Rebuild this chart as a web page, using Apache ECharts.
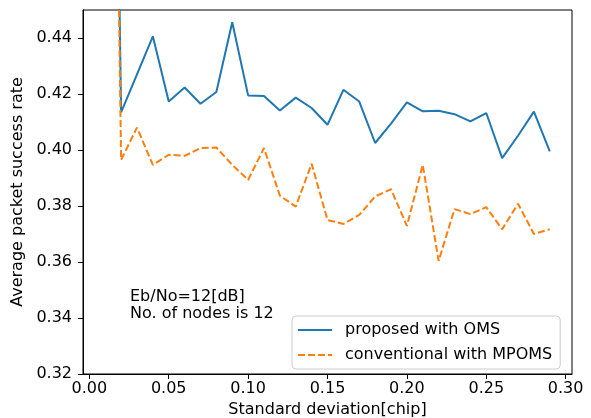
<!DOCTYPE html>
<html><head><meta charset="utf-8">
<script src="https://cdn.jsdelivr.net/npm/echarts@6/dist/echarts.min.js"></script>
<style>html,body{margin:0;padding:0;background:#fff}#c{width:591px;height:418px}</style>
</head><body><div id="c"></div>
<script>
const xValues = [0.01,0.02,0.03,0.04,0.05,0.06,0.07,0.08,0.09,0.10,0.11,0.12,0.13,0.14,0.15,0.16,0.17,0.18,0.19,0.20,0.21,0.22,0.23,0.24,0.25,0.26,0.27,0.28,0.29];
const proposed = [0.80,0.4134,0.427,0.4406,0.4173,0.4223,0.4165,0.4207,0.4456,0.4195,0.4193,0.4141,0.4187,0.4150,0.4090,0.4215,0.4173,0.4025,0.4094,0.4170,0.4138,0.4140,0.4128,0.4102,0.4132,0.3971,0.4051,0.4137,0.3995];
const conventional = [0.80,0.3965,0.4080,0.3947,0.3983,0.3979,0.4007,0.4009,0.3947,0.3893,0.4007,0.3837,0.3798,0.3951,0.3750,0.3736,0.3768,0.3834,0.3860,0.3729,0.3947,0.3604,0.3789,0.3771,0.3796,0.3717,0.3808,0.3700,0.3717];
const xTicks = [0.00,0.05,0.10,0.15,0.20,0.25,0.30];
const yTicks = [0.32,0.34,0.36,0.38,0.40,0.42,0.44];
const seriesNames = ['proposed with OMS','conventional with MPOMS'];

const FONT = 'DejaVu Sans';
const chart = echarts.init(document.getElementById('c'), null, {renderer:'canvas'});
chart.setOption({
  animation:false,
  textStyle:{fontFamily:FONT,color:'#000'},
  grid:{left:83,right:19,top:10,bottom:44,containLabel:false,outerBoundsMode:'none',show:true,borderColor:'#000',borderWidth:1,backgroundColor:'transparent'},
  xAxis:{
    type:'value',min:-0.004,max:0.304,
    name:'Standard deviation[chip]',nameLocation:'middle',nameGap:28,
    nameTextStyle:{fontSize:16,fontFamily:FONT,color:'#000'},
    axisLine:{show:true,onZero:false,lineStyle:{color:'#000',width:1}},
    axisTick:{show:true,length:5,lineStyle:{color:'#000'},customValues:xTicks},
    axisLabel:{customValues:xTicks,formatter:v=>v.toFixed(2),fontSize:16,fontFamily:FONT,color:'#000',margin:7},
    splitLine:{show:false}
  },
  yAxis:{
    type:'value',min:0.32,max:0.45,
    name:'Average packet success rate',nameLocation:'middle',nameGap:50,nameRotate:90,
    nameTextStyle:{fontSize:16,fontFamily:FONT,color:'#000'},
    axisLine:{show:true,onZero:false,lineStyle:{color:'#000',width:1}},
    axisTick:{show:true,length:5,lineStyle:{color:'#000'},customValues:yTicks},
    axisLabel:{customValues:yTicks,formatter:v=>v.toFixed(2),fontSize:16,fontFamily:FONT,color:'#000',margin:11},
    splitLine:{show:false}
  },
  legend:{
    show:true,orient:'vertical',left:292,top:316,
    padding:[6,8,6,5],itemGap:9,itemWidth:34,itemHeight:14,
    backgroundColor:'rgba(255,255,255,0.8)',borderColor:'#cccccc',borderWidth:1,borderRadius:4,
    itemStyle:{opacity:0},
    textStyle:{fontSize:16,fontFamily:FONT,color:'#000',padding:[0,0,0,8]},
    data:seriesNames
  },
  graphic:[{type:'text',left:130,top:288,style:{text:'Eb/No=12[dB]\nNo. of nodes is 12',font:'16px "DejaVu Sans"',fill:'#000',lineHeight:17}}],
  series:[
    {name:seriesNames[0],type:'line',symbol:'none',clip:true,data:xValues.map((x,i)=>[x,proposed[i]]),
     lineStyle:{color:'#1f77b4',width:2},itemStyle:{color:'#1f77b4'}},
    {name:seriesNames[1],type:'line',symbol:'none',clip:true,data:xValues.map((x,i)=>[x,conventional[i]]),
     lineStyle:{color:'#ff7f0e',width:2,type:[7,3]},itemStyle:{color:'#ff7f0e'}}
  ]
});
</script></body></html>
